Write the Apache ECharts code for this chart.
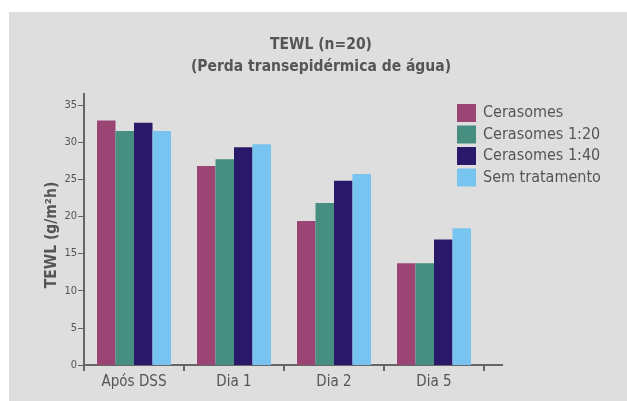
<!DOCTYPE html>
<html><head><meta charset="utf-8">
<script src="https://cdn.jsdelivr.net/npm/echarts@6/dist/echarts.min.js"></script>
<style>html,body{margin:0;padding:0;background:#fff}#c{width:627px;height:401px}</style>
</head><body><div id="c"></div>
<script>
const categories = ['Após DSS', 'Dia 1', 'Dia 2', 'Dia 5'];
const seriesNames = ['Cerasomes', 'Cerasomes 1:20', 'Cerasomes 1:40', 'Sem tratamento'];
const cerasomes = [32.9, 26.8, 19.4, 13.7];
const cerasomes120 = [31.5, 27.7, 21.8, 13.7];
const cerasomes140 = [32.6, 29.3, 24.8, 16.9];
const semTratamento = [31.5, 29.7, 25.7, 18.4];
const colors = ['#9a4574', '#468f80', '#2a196a', '#76c4ef'];
const FONT = '"DejaVu Sans Condensed", "DejaVu Sans", sans-serif';
const TXT = '#555';

const chart = echarts.init(document.getElementById('c'), null, {renderer: 'canvas'});
const values = [cerasomes, cerasomes120, cerasomes140, semTratamento];
chart.setOption({
  animation: false,
  backgroundColor: '#fff',
  graphic: [
    {type: 'rect', shape: {x: 9, y: 12, width: 618, height: 389}, style: {fill: '#dedede'}, z: -10},
    {type: 'line', shape: {x1: 84, y1: 93, x2: 84, y2: 106}, style: {stroke: '#666', lineWidth: 2}},
    {type: 'line', shape: {x1: 484, y1: 365, x2: 503, y2: 365}, style: {stroke: '#666', lineWidth: 2}}
  ],
  title: {
    text: 'TEWL (n=20)\n(Perda transepidérmica de água)',
    left: 321, top: 34, textAlign: 'center', padding: 0,
    textStyle: {fontFamily: FONT, fontSize: 15.5, fontWeight: 'bold', color: TXT, lineHeight: 22}
  },
  legend: {
    orient: 'vertical', left: 457, top: 104, padding: 0,
    itemWidth: 19, itemHeight: 18, itemGap: 3.5,
    icon: 'rect',
    data: seriesNames,
    textStyle: {fontFamily: FONT, fontSize: 16, color: TXT, lineHeight: 18, padding: [0, 0, 0, 2]}
  },
  grid: {left: 84, right: 143, top: 105, bottom: 36},
  xAxis: {
    type: 'category', data: categories,
    axisLine: {lineStyle: {color: '#666', width: 2}},
    axisTick: {show: true, length: 6, lineStyle: {color: '#666', width: 2}},
    axisLabel: {fontFamily: FONT, fontSize: 15, color: TXT, margin: 10}
  },
  yAxis: {
    type: 'value', min: 0, max: 35, interval: 5,
    name: 'TEWL (g/m²h)', nameLocation: 'middle', nameGap: 24, nameRotate: 90,
    nameMoveOverlap: false,
    nameTextStyle: {fontFamily: FONT, fontSize: 15.5, fontWeight: 'bold', color: TXT},
    axisLine: {show: true, lineStyle: {color: '#666', width: 2}},
    axisTick: {show: true, length: 6, lineStyle: {color: '#666', width: 1}},
    splitLine: {show: false},
    axisLabel: {fontFamily: FONT, fontSize: 11, color: TXT, margin: 7}
  },
  series: seriesNames.map((n, i) => ({
    name: n, type: 'bar', data: values[i],
    barGap: 0, barCategoryGap: '26%',
    itemStyle: {color: colors[i]}
  }))
});
</script></body></html>
